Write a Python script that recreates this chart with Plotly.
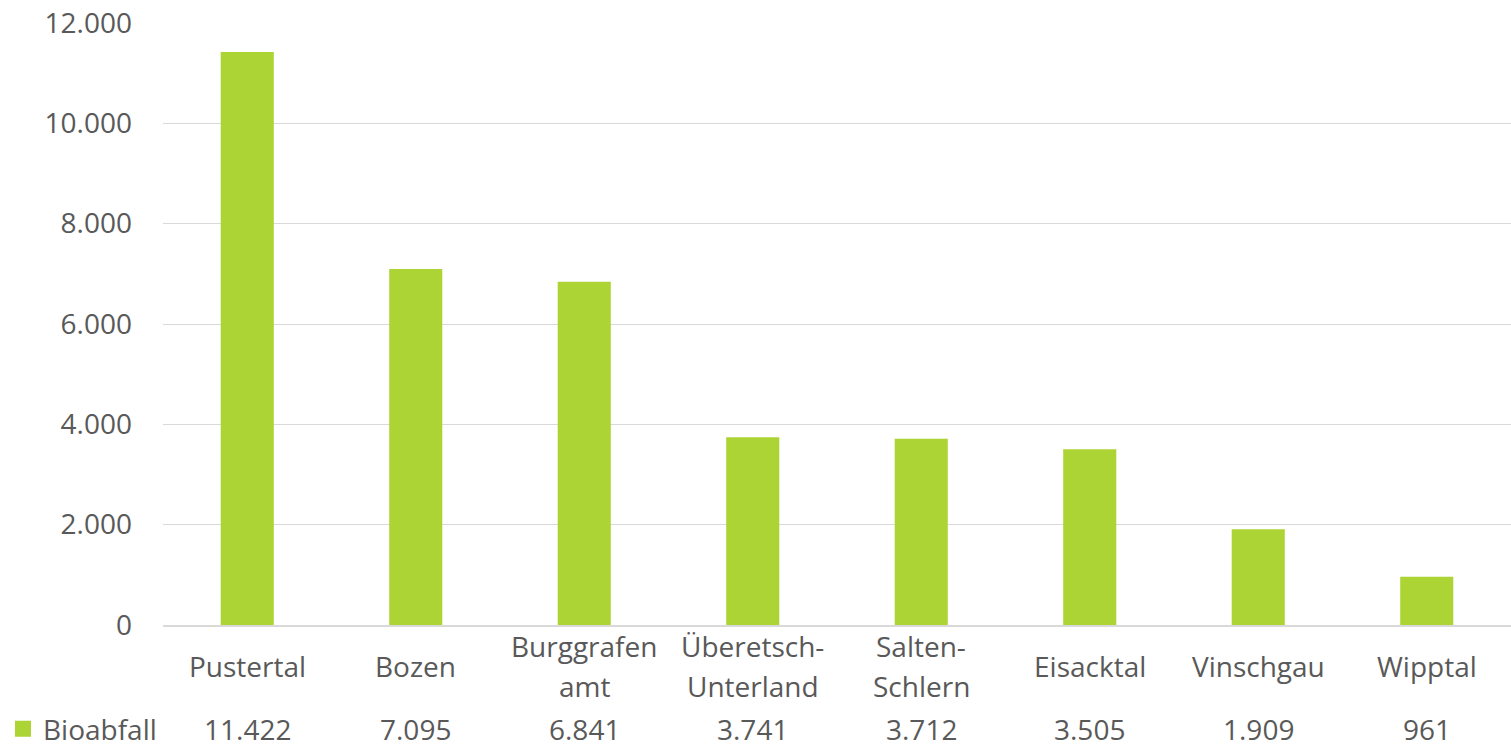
import plotly.graph_objects as go

categories = ["Pustertal", "Bozen", "Burggrafen<br>amt", "Überetsch-<br>Unterland",
              "Salten-<br>Schlern", "Eisacktal", "Vinschgau", "Wipptal"]
values = [11422, 7095, 6841, 3741, 3712, 3505, 1909, 961]
series_name = "Bioabfall"
y_ticks = [0, 2000, 4000, 6000, 8000, 10000, 12000]

BAR = "#acd434"
TXT = "#595959"
FONT = "Open Sans"
FS = 28

def fmt(v):
    return f"{v:,}".replace(",", ".")

fig = go.Figure()
fig.add_trace(go.Bar(x=categories, y=values, name=series_name,
                     marker=dict(color=BAR, line=dict(width=0)),
                     showlegend=False))
# legend entry (square key) for the series
fig.add_trace(go.Scatter(x=[None], y=[None], name=series_name, mode="markers",
                         marker=dict(symbol="square", size=18, color=BAR),
                         showlegend=True, hoverinfo="skip"))

PLOT_H = 602
LINE = 40 / PLOT_H
ROW_Y = -0.173
annotations = []
for c in categories:
    lines = c.split("<br>")
    n = len(lines)
    for i, ln in enumerate(lines):
        annotations.append(dict(x=c, y=-0.068 - (i - (n - 1) / 2) * LINE,
                                xref="x", yref="paper", text=ln,
                                showarrow=False, yanchor="middle", xanchor="center",
                                font=dict(family=FONT, size=FS, color=TXT)))
for c, v in zip(categories, values):
    annotations.append(dict(x=c, y=ROW_Y, xref="x", yref="paper", text=fmt(v),
                            showarrow=False, yanchor="middle", xanchor="center",
                            font=dict(family=FONT, size=FS, color=TXT)))

fig.update_layout(
    width=1511, height=747,
    margin=dict(l=163, r=0, t=23, b=122, autoexpand=False),
    paper_bgcolor="white", plot_bgcolor="white",
    separators=",.",
    bargap=0.685,
    font=dict(family=FONT, size=FS, color=TXT),
    showlegend=True,
    legend=dict(x=-0.1187, y=ROW_Y, xanchor="left", yanchor="middle",
                xref="paper", yref="paper", bgcolor="rgba(0,0,0,0)",
                font=dict(family=FONT, size=FS, color=TXT),
                itemwidth=30, tracegroupgap=0),
    annotations=annotations,
    xaxis=dict(showticklabels=False, showgrid=False, showline=True,
               linecolor="#d9d9d9", linewidth=2, ticks=""),
    yaxis=dict(range=[0, 12000], tickvals=y_ticks, tickformat=",d",
               showgrid=True, gridcolor="#d9d9d9", gridwidth=1,
               zeroline=False, showline=False, ticks="",
               ticklabelstandoff=30,
               tickfont=dict(family=FONT, size=FS, color=TXT)),
)

fig.write_html("out.html",
               config={"displayModeBar": False},
               post_script="document.body.style.margin='0px';document.body.style.overflow='hidden';")
